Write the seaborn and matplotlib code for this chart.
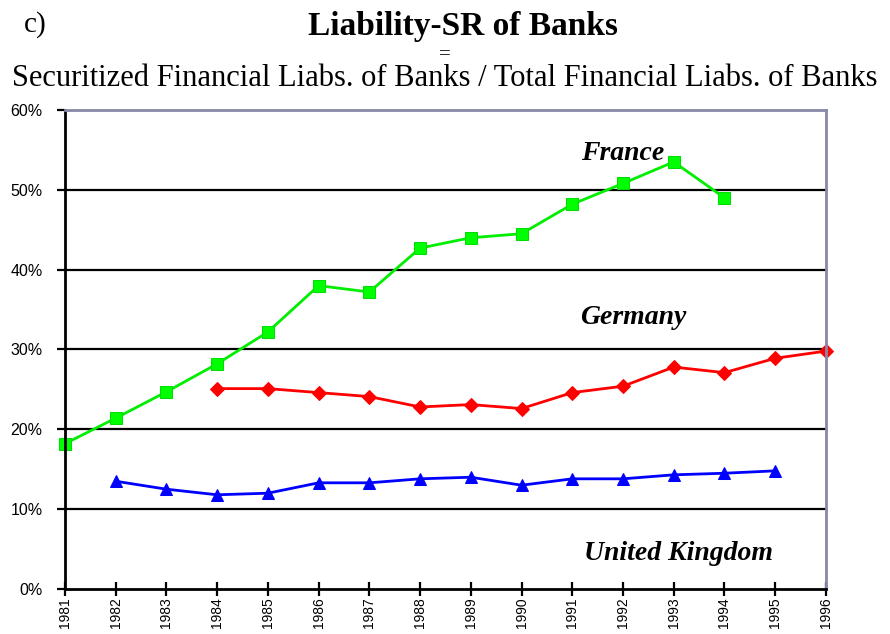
import numpy as np
import pandas as pd
import matplotlib
matplotlib.use('Agg')
import matplotlib.pyplot as plt
import seaborn as sns

# Data (percent)
years = list(range(1981, 1997))
france_years = list(range(1981, 1995))
france = [18.2, 21.4, 24.7, 28.2, 32.2, 38.0, 37.2, 42.7, 44.0, 44.5, 48.2, 50.8, 53.5, 49.0]
germany_years = list(range(1984, 1997))
germany = [25.1, 25.1, 24.6, 24.1, 22.8, 23.1, 22.6, 24.6, 25.4, 27.8, 27.1, 28.9, 29.8]
uk_years = list(range(1982, 1996))
uk = [13.5, 12.5, 11.8, 12.0, 13.3, 13.3, 13.8, 14.0, 13.0, 13.8, 13.8, 14.3, 14.5, 14.8]
y_ticks = [0, 10, 20, 30, 40, 50, 60]

sns.set_style('white')
plt.rcParams['font.family'] = ['Liberation Sans', 'DejaVu Sans']
plt.rcParams['text.color'] = 'black'
plt.rcParams['xtick.color'] = 'black'
plt.rcParams['ytick.color'] = 'black'

df = pd.concat([
    pd.DataFrame({'year': france_years, 'value': france, 'country': 'France'}),
    pd.DataFrame({'year': germany_years, 'value': germany, 'country': 'Germany'}),
    pd.DataFrame({'year': uk_years, 'value': uk, 'country': 'United Kingdom'}),
])

fig = plt.figure(figsize=(8.9, 6.34), dpi=100)
ax = fig.add_axes([0.073, 0.071, 0.855, 0.7555])

styles = {
    'France': dict(color='#00ee00', marker='s', markersize=8, markerfacecolor='#00ff00',
                   markeredgecolor='#00dd00'),
    'Germany': dict(color='#ff0000', marker='D', markersize=7, markerfacecolor='#ff0000',
                    markeredgecolor='#ff0000'),
    'United Kingdom': dict(color='#0000ff', marker='^', markersize=9, markerfacecolor='#0000ff',
                           markeredgecolor='#0000ff'),
}
for name, st in styles.items():
    sub = df[df['country'] == name]
    sns.lineplot(data=sub, x='year', y='value', ax=ax, linewidth=2, clip_on=False, **st)

# grid lines
for yv in y_ticks[1:-1]:
    ax.axhline(yv, color='black', linewidth=1.6, zorder=0)

ax.set_xlim(1981, 1996)
ax.set_ylim(0, 60)
ax.set_xticks(years)
ax.set_xticklabels([str(y) for y in years], rotation=90, fontsize=10)
ax.set_yticks(y_ticks)
ax.set_yticklabels([f'{v}%' for v in y_ticks], fontsize=11.5)
ax.set_xlabel('')
ax.set_ylabel('')

for side in ['left', 'bottom']:
    ax.spines[side].set_color('black')
    ax.spines[side].set_linewidth(2)
for side in ['top', 'right']:
    ax.spines[side].set_color('#8888a8')
    ax.spines[side].set_linewidth(2)
ax.tick_params(axis='y', direction='out', length=6, width=1.6, color='black',
               left=True, pad=10)
ax.tick_params(axis='x', direction='inout', length=10, width=1.6, color='black',
               bottom=True, pad=1)

serif = ['Liberation Serif', 'DejaVu Serif']
lab = dict(fontsize=20, fontweight='bold', fontstyle='italic', family=serif,
           ha='center', va='center', color='black')
ax.text(1992.0, 54.6, 'France', **lab)
ax.text(1992.2, 34.0, 'Germany', **lab)
ax.text(1993.1, 4.5, 'United Kingdom', **lab)

fig.text(0.04, 0.962, 'c)', fontsize=21, family=serif, ha='center', va='center')
fig.text(0.52, 0.958, 'Liability-SR of Banks', fontsize=24, fontweight='bold',
         family=serif, ha='center', va='center')
fig.text(0.5, 0.914, '=', fontsize=15, family=serif, ha='center', va='center')
fig.text(0.5, 0.876, 'Securitized Financial Liabs. of Banks / Total Financial Liabs. of Banks',
         fontsize=22, family=serif, ha='center', va='center')

fig.savefig('out.png', dpi=100)
